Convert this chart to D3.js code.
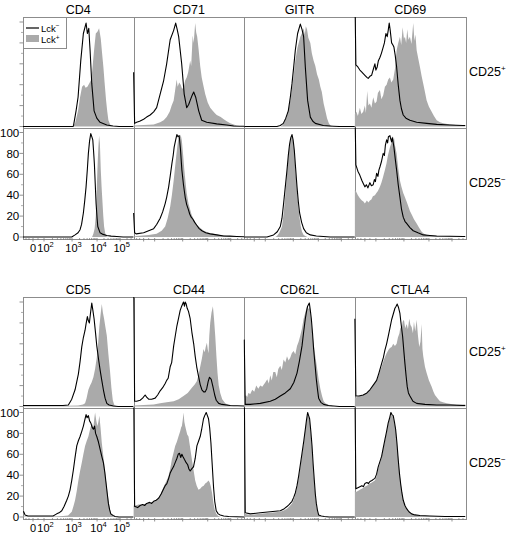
<!DOCTYPE html>
<html><head><meta charset="utf-8">
<script src="https://cdn.jsdelivr.net/npm/d3@7"></script>
<style>
body{margin:0;background:#fff}
svg{display:block;font-family:"Liberation Sans",Arial,Helvetica,sans-serif}
</style>
</head><body><svg id="chart" width="510" height="538"></svg>
<script>
// ---------- labels ----------
const markersTop = ["CD4", "CD71", "GITR", "CD69"];
const markersBottom = ["CD5", "CD44", "CD62L", "CTLA4"];
const subsetLabels = [["CD25", "+"], ["CD25", "−"]];
const legendLabels = [["Lck", "−"], ["Lck", "+"]];
const yTicks = [0, 20, 40, 60, 80, 100];
const xTickChannels = [10, 21, 49, 74, 97];
const xTickLabels = [["0", ""], ["10", "2"], ["10", "3"], ["10", "4"], ["10", "5"]];
const channelDomain = [0, 110.5];

// ---------- histogram data: [display channel, % of max] ----------
// block 1, CD25+ row
const cd4PosNeg = [[0,0],[50,0],[50.5,1],[53,15],[55,28],[57.7,63],[60.3,89],[63,99],[64.3,89],[65.7,94],[67,73],[68.7,41],[71,15],[73.7,8],[77,4],[83.7,1.5],[90,0.5],[96,0],[110.5,0]];
const cd4PosPos = [[0,0],[50,0],[52,3],[55,15],[57,28],[59,38],[61,40],[62.5,37],[64.3,38],[66,41],[67.7,44],[69,52],[70.3,66],[71.5,78],[72.7,89],[74.5,91],[76,94],[77.7,84],[79,70],[80.3,57],[81.5,42],[83,25],[84.2,14],[85.3,6],[87,2],[88.7,0.5],[90,0],[110.5,0]];
const cd71PosNeg = [[0,52],[1,3],[3,4],[6,5],[8,6],[10,7],[13,9],[16.5,11],[20,14],[23,18],[26.5,31],[30,44],[33,60],[36.5,83],[40,92],[42,99],[43.5,93],[45,86],[48,60],[50.5,31],[53,18],[55,21],[56.5,25],[58.5,30],[60,33],[62,28],[65,15],[68,6],[73,4],[83,2.5],[93,1.5],[100,0.5],[110.5,0.3]];
const cd71PosPos = [[0,1],[10,1.5],[20,2],[26.5,4],[30,6],[33,9],[36,14],[38,20],[40,25],[41.5,35],[43,45],[44,38],[45.5,42],[47,40],[48.5,36],[50,38],[51.5,44],[53,47],[54.5,52],[56.5,63],[57.5,58],[59,87],[60,80],[61.5,99],[62.5,90],[63.5,86],[65,73],[66.5,58],[68,47],[69.5,40],[71.5,31],[74,23],[76.5,18],[79,15],[81,13],[83,11],[85,10],[87,9],[90,7],[93,5],[96.5,3],[100,2],[103,1],[106,0.5],[110.5,0]];
const gitrPosNeg = [[0,0],[32.7,0],[36,1],[39,3],[41.5,8],[44,15],[46,28],[47.7,41],[49.5,58],[51,73],[53.3,89],[56,98],[57.7,93],[59.3,86],[61,57],[63.3,25],[66,9],[68.5,5],[71,3],[79,1],[89,0.3],[95,0],[110.5,0]];
const gitrPosPos = [[0,0],[36,0],[38,1],[42,8],[44,15],[46,25],[48.5,42],[51,63],[53,75],[56,86],[58,90],[59.3,94],[60.5,88],[61.5,96],[62.7,93],[64,85],[66,80],[67.5,70],[69.3,63],[71,58],[72.7,50],[74.5,45],[76,38],[77.5,33],[79.3,22],[81,15],[82.7,8],[84.5,3],[86,1],[88,0],[110.5,0]];
const cd69PosNeg = [[0,130],[1,59],[3,57],[5,54],[7,52],[10,49],[12,47],[13.3,46],[15,48],[16.7,49],[18.5,55],[20,60],[21,54],[22.3,57],[23.5,63],[25,66],[26.5,70],[28.3,76],[29.5,80],[31,89],[32.3,86],[33.3,92],[34.3,99],[35.3,92],[36.7,80],[38,78],[39,76],[40.3,68],[41.7,57],[43.3,40],[45,25],[46.5,17],[48.3,11],[51,8],[55,6],[61.7,4],[71.7,3],[81.7,2],[95,1.5],[108,1],[110.5,1]];
const cd69PosPos = [[0,12],[1.5,14],[3,10],[5,18],[6.5,12],[8.3,14],[10,20],[11,13],[12.3,34],[13.5,20],[15,22],[16.5,18],[18.3,28],[20,22],[21.7,24],[23,32],[25,35],[26.5,26],[28.3,30],[30,38],[31.7,40],[33.3,45],[35,47],[36.5,42],[38.3,45],[40,55],[41.7,73],[43.3,80],[45,86],[46.3,78],[47.7,95],[49,84],[50,86],[51.2,80],[52.3,93],[53.5,83],[55,86],[56.5,79],[58.3,99],[59.5,82],[60.5,88],[61.7,73],[63.3,65],[65,57],[66.7,48],[68.3,41],[70,33],[71.7,25],[74,19],[76.7,14],[79,10],[81.7,6],[85,4],[88.3,3],[95,2],[101,1.5],[108,1],[110.5,0.5]];
// block 1, CD25- row
const cd4NegNeg = [[0,0],[48.7,0],[52,2],[55,4],[57,7],[58.5,12],[60.3,23],[61.7,35],[63,48],[64.3,65],[65.3,80],[66.5,92],[67.7,99],[68.7,96],[69.7,93],[70.5,82],[71.3,70],[72.2,50],[73,32],[74,18],[74.7,10],[77,4],[80,2.5],[83.7,1.5],[88,0.8],[93.7,0.5],[100,0],[110.5,0]];
const cd4NegPos = [[0,0],[69,0],[70.3,3],[71.5,8],[72.7,20],[73.5,40],[74.3,64],[75.2,85],[76,97],[76.8,90],[77.7,64],[78.5,48],[79.3,35],[80.2,20],[81,10],[82,4],[83,1],[84.5,0],[110.5,0]];
const cd71NegNeg = [[0,23],[1,4],[2.5,3],[10,4],[15,6],[20,8],[23,12],[26.5,18],[29,24],[31.5,32],[33,38],[35,48],[36.5,58],[38.2,70],[39.5,78],[40.5,86],[42,93],[43.2,98],[44.3,96],[45.5,97],[46.8,84],[48.2,64],[49.8,50],[51.5,38],[53,31],[54.8,26],[56,22],[57.5,19],[59.2,17],[61,14],[63.2,11],[65.5,8],[68.2,6],[72,4],[76.5,3],[83,2],[90,1],[96,0.8],[103,0.5],[110.5,0.3]];
const cd71NegPos = [[0,0.5],[3,1],[15,2],[23,3],[28,6],[31.5,10],[34,18],[36.5,29],[38.2,40],[40,54],[41.2,65],[42.5,77],[43.8,88],[45,97],[46,94],[47,98],[48.2,92],[49.5,78],[50.5,66],[51.5,56],[53,42],[54.8,32],[56.5,26],[58,21],[60.5,16],[63,12],[66,9],[70,6],[75,4],[80,3],[86,2],[93,1],[100,0.5],[106,0],[110.5,0]];
const gitrNegNeg = [[0,0],[22.7,0],[26,1],[29.3,2],[33,5],[36,10],[37.7,18],[39.3,32],[41,48],[42.7,64],[44,78],[45.3,89],[46.5,95],[47.7,98],[48.8,93],[50,83],[51.3,66],[52.7,48],[54,34],[55.3,23],[57.3,14],[59.3,8],[62,4],[66,2],[72,1],[79,0.5],[86,0],[110.5,0]];
const gitrNegPos = [[0,0],[31,0],[32.7,1],[35,4],[37.7,10],[39.5,24],[41,40],[42.7,60],[44.3,80],[46,92],[47.7,97],[48.8,92],[50,82],[51.3,62],[52.7,45],[54,30],[55.3,18],[56.5,10],[57.7,5],[59.3,2],[61,1],[63,0],[110.5,0]];
const cd69NegNeg = [[0,130],[1,69],[3,63],[5,59],[7,54],[8.5,51],[10,48],[11.5,50],[13,47],[15,52],[16.5,49],[18.3,50],[19.5,55],[20.5,53],[21.7,61],[23,58],[24,64],[25,67],[26.5,72],[28.3,80],[29.5,78],[30.5,88],[31.7,93],[32.7,90],[33.5,96],[35,97],[35.8,94],[36.7,91],[37.5,95],[39,86],[40.3,75],[41.7,64],[43.3,50],[45,38],[46.5,27],[48.3,19],[50,15],[51.7,13],[55,9],[58.3,6],[63,4],[68.3,2],[75,1.5],[81.7,1],[95,0.7],[108,0.5],[110.5,0.5]];
const cd69NegPos = [[0,45],[1,44],[3,40],[5,37],[7,35],[8.5,34],[10,32],[12,35],[13.5,33],[15,35],[16.5,36],[18,39],[20,40],[21.5,42],[23,44],[25,48],[26.5,52],[28,57],[30,64],[31.5,70],[33,78],[35,86],[36.5,90],[37.3,97],[38.3,93],[39,96],[40,88],[41.7,80],[43.3,66],[45,54],[46.5,48],[48.3,42],[50,38],[52,33],[53.5,29],[55,25],[57,21],[59,17],[61.7,13],[64,9],[66.7,5],[69,3],[71.7,2],[76,1.5],[81.7,1],[90,0.7],[100,0.5],[110.5,0.3]];
// block 2, CD25+ row
const cd5PosNeg = [[0,1],[20,1],[40,1],[45.3,1.5],[48.7,7],[52,16],[55.3,31],[57,43],[58.7,57],[60.3,66],[62,73],[63,79],[64.3,86],[65.3,82],[66.3,80],[67.5,90],[68.7,99],[69.8,92],[71,84],[72.5,70],[73.7,58],[75.5,45],[77,35],[78.7,25],[80.3,16],[82,8],[83.7,3],[86,1.5],[90.3,0.5],[95,0],[110.5,0]];
const cd5PosPos = [[0,0.5],[30,0.5],[55,1],[60,2],[62,3],[63.5,8],[65.3,16],[67,20],[68.5,23],[70.3,28],[72,36],[73.7,47],[75,60],[76.3,77],[77.5,88],[78.7,98],[79.8,90],[81,84],[82.3,76],[83.7,68],[85.3,50],[87,33],[88.3,18],[89.7,6],[91,2],[92,1],[94,0],[110.5,0]];
const cd44PosNeg = [[0,130],[1,5],[3,5],[6.5,6],[9,8],[11.5,11],[13,9],[15,7],[18,7],[21.5,8],[24,11],[26.5,15],[29,18],[31.5,22],[33,25],[34.5,27],[36.5,38],[38,42],[40,58],[41.5,67],[43.2,77],[45,85],[46.5,92],[48,96],[49.8,100],[50.8,96],[51.5,100],[52.5,98],[53.5,94],[54.8,91],[56.5,84],[58.2,71],[60,60],[61.5,48],[63,38],[64.8,29],[66.5,21],[68.2,16],[70,14],[71.5,14],[73,17],[74.5,24],[75.8,28],[77.5,26],[79.2,19],[81,11],[82.5,6],[85,3],[88.2,2],[96.5,1],[110.5,0.5]];
const cd44PosPos = [[0,1],[10,1.5],[20,2],[26.5,3],[33,4],[40,5],[45,7],[49.8,10],[54,13],[58.2,18],[61,21],[63,24],[64.8,30],[66.5,38],[68.2,46],[69.8,55],[71,52],[72,57],[73.2,61],[74,55],[74.8,51],[75.6,68],[76.5,80],[77.8,90],[79.2,96],[80.3,84],[81.5,68],[82.7,48],[83.8,32],[85,20],[86.5,13],[88.5,7],[91.5,3],[94,2],[96.5,1],[100,0.5],[104,0],[110.5,0]];
const cd62lPosNeg = [[0,64],[1,2],[6,2],[16,3],[26,5],[31,7],[36,10],[41,13],[46,17],[49.5,23],[52.7,32],[55,43],[57.7,58],[59.3,71],[61,84],[62.2,91],[63.3,96],[65,99],[66,92],[67,84],[68.2,70],[69.3,55],[70.7,40],[72,26],[73.2,16],[74.3,8],[76.5,4],[79.3,2],[84,1],[89.3,0.5],[95,0],[110.5,0]];
const cd62lPosPos = [[0,8],[1.5,11],[3,9],[4,13],[6,12],[8,16],[10,14],[12,20],[14,17],[16,20],[18,19],[21,23],[23,26],[24.5,22],[26,30],[27.5,25],[29,33],[31,33],[32.5,28],[34,36],[36,39],[37.5,35],[39.3,45],[41,42],[42.7,48],[44.3,44],[46,47],[47.5,51],[49.3,53],[51,50],[52.7,58],[54.3,62],[56,68],[57.5,74],[59.3,84],[61,90],[62.7,96],[64,93],[65.3,96],[66.5,86],[67.7,74],[69.3,60],[71,48],[72.7,37],[74.3,26],[76,17],[77.7,10],[79.3,5],[81,3],[83.5,2],[86,1],[90,0],[110.5,0]];
const ctla4PosNeg = [[0,84],[1,10],[4,10],[8.3,11],[12,13],[15,16],[18,20],[21.7,25],[24,32],[26.7,41],[28.5,47],[30,54],[31.7,60],[33.3,67],[35,75],[36.7,83],[38.5,89],[40,94],[41.2,96],[42.3,98],[43.5,95],[45,89],[46.3,78],[47.7,67],[49,52],[50,41],[51.2,29],[52.3,19],[53.5,13],[55,10],[58,5],[61.7,3],[70,2],[81.7,1.5],[95,1.5],[108,1],[110.5,1]];
const ctla4PosPos = [[0,8],[2,9],[5,10],[8.3,11],[12,13],[15,16],[18.3,20],[21.7,25],[24,31],[26.7,38],[29,45],[31.7,51],[33.5,54],[35,56],[36.7,57],[38.3,60],[40,58],[41.7,60],[43,66],[44.5,70],[45.5,76],[46.7,73],[47.7,81],[49,83],[50.3,75],[51.7,79],[53,74],[54.3,84],[55.5,78],[56.7,76],[58,70],[59,81],[60.3,72],[61.7,83],[63,68],[64.3,57],[65.5,62],[66.7,79],[67.5,55],[68.3,48],[70,38],[71.7,32],[74,25],[76.7,19],[78.5,14],[80,11],[82.5,8],[85,5],[88,4],[91.7,3],[96,2.5],[101.7,2],[108,2],[110.5,2]];
// block 2, CD25- row
const cd5NegNeg = [[0,5],[0.7,5],[2,2],[5,1],[10,1],[20,1],[30,1],[33.7,3],[36,4],[38.7,6],[41,10],[43.7,16],[45.3,20],[47,26],[48.7,35],[50.3,45],[52,57],[53.7,68],[55.3,73],[57,77],[58.7,82],[60.3,87],[61.5,92],[63,98],[64,95],[65.3,97],[66.5,92],[67.7,90],[69,86],[70.3,84],[71.5,87],[72.5,80],[73.7,77],[75.3,72],[77,65],[78.7,58],[80.3,52],[81.7,43],[83,32],[84.2,22],[85.3,13],[86.5,7],[87.7,3],[90,1.5],[92,0.5],[96,0],[110.5,0]];
const cd5NegPos = [[0,0.5],[30,0.5],[40,1],[45,1.5],[48.7,5],[50.3,10],[52,16],[53.7,25],[55.3,35],[57,44],[58.7,52],[60.3,60],[62,68],[63.7,73],[65.3,77],[67,84],[68.7,90],[70.3,86],[71.2,94],[72,100],[73.2,92],[74.3,87],[75.3,91],[76.3,97],[77.5,85],[78.7,71],[80,60],[81,52],[82.3,40],[83.7,29],[85,19],[86.3,10],[87.5,5],[88.7,2],[90,0.5],[92,0],[110.5,0]];
const cd44NegNeg = [[0,130],[1,10],[1.5,10],[4,9],[6.5,11],[9,12],[11,11],[13,13],[16,14],[18,13],[20,15],[22.5,16],[25,18],[27.5,22],[30,27],[31.5,30],[33.2,32],[35,37],[36.5,42],[38,45],[39.8,48],[41.5,52],[43.2,56],[44.5,60],[45.8,61],[47,57],[48.2,60],[49.2,58],[50.8,55],[52.5,52],[54,50],[55.2,46],[56.5,44],[58,46],[59.8,48],[61.5,56],[63.2,68],[65,73],[66.5,77],[68,84],[69.8,94],[71,97],[72.5,100],[73.7,97],[74.8,94],[76,85],[77.2,71],[78.5,50],[79.8,29],[81,15],[82.5,6],[84.5,3],[86.5,2],[90,1],[95,0.5],[110.5,0]];
const cd44NegPos = [[0,11],[1.5,11],[5,12],[9,12],[13,13],[18,14],[23,16],[26.5,21],[30,29],[32.5,34],[34.8,39],[36.5,46],[38.2,55],[40,62],[41.5,68],[43.2,72],[44.8,77],[46.5,82],[47.5,86],[48.2,87],[49.2,94],[49.8,100],[50.7,91],[51.5,87],[52.5,83],[53.5,79],[54.8,77],[56.5,66],[58.2,55],[60,44],[61.5,35],[63,30],[64.8,26],[66.5,27],[68.2,29],[70,30],[71.5,32],[73,33],[74.8,35],[76,33],[77.2,29],[78.5,22],[79.8,13],[81,7],[82.5,3],[84.5,1],[87,0],[110.5,0]];
const cd62lNegNeg = [[0,130],[1,4],[6,3],[16,4],[26,5],[36,6],[40,8],[42.7,10],[45,12],[47.7,15],[49.5,19],[51,23],[52.7,30],[54.3,39],[56,50],[57.7,61],[59.5,73],[61,84],[62.2,93],[63.3,100],[64.3,97],[65.3,94],[66.5,82],[67.7,68],[68.8,51],[70,35],[71,22],[72,13],[73.2,6],[74.3,2],[77,1],[80,0.5],[85,0],[110.5,0]];
const cd62lNegPos = [[0,3],[6,2],[16,3],[26,4],[36,5],[40,6.5],[42.7,8],[45,10],[47.7,13],[49.5,17],[51,21],[52.7,28],[54.3,37],[56,48],[57.7,60],[59.5,72],[61,84],[62.2,92],[63.3,98],[64.3,96],[65.3,93],[66.5,80],[67.7,66],[68.8,48],[70,32],[71,20],[72,11],[73.2,5],[74.3,2],[76,0.5],[78,0],[110.5,0]];
const ctla4NegNeg = [[0,130],[1,27],[3,28],[5,29],[7,30],[8.5,29],[10,32],[12,33],[13.5,32],[15,34],[17,35],[18.5,36],[20,37],[21.7,41],[23.3,48],[25,53],[26.7,58],[28.3,66],[30,74],[31.5,81],[33.3,90],[34.5,94],[36,100],[37,98],[38.3,97],[39.5,91],[40.7,84],[42,71],[43.3,55],[44.5,42],[45.7,32],[47,23],[48.3,16],[50,11],[51.7,8],[54,5],[56.7,3],[60,2],[65,1.5],[75,1],[90,0.5],[110.5,0.5]];
const ctla4NegPos = [[0,25],[1,24],[3,25],[5,26],[7,27],[10,29],[12,30],[15,32],[17,33],[20,35],[21.7,39],[23.3,46],[25,51],[26.7,57],[28.3,65],[30,73],[31.5,80],[33.3,89],[34.5,93],[36,98],[37,97],[38.3,96],[39.5,90],[40.7,85],[42,71],[43.3,57],[44.5,43],[45.7,33],[47,24],[48.3,17],[50,11],[51.7,8],[54,5],[56.7,3],[60,2],[65,1],[75,0.5],[90,0],[110.5,0]];

// table built from the arrays above
const blocks = [
  {titles: markersTop, rows: [
    [[cd4PosNeg, cd4PosPos], [cd71PosNeg, cd71PosPos], [gitrPosNeg, gitrPosPos], [cd69PosNeg, cd69PosPos]],
    [[cd4NegNeg, cd4NegPos], [cd71NegNeg, cd71NegPos], [gitrNegNeg, gitrNegPos], [cd69NegNeg, cd69NegPos]]]},
  {titles: markersBottom, rows: [
    [[cd5PosNeg, cd5PosPos], [cd44PosNeg, cd44PosPos], [cd62lPosNeg, cd62lPosPos], [ctla4PosNeg, ctla4PosPos]],
    [[cd5NegNeg, cd5NegPos], [cd44NegNeg, cd44NegPos], [cd62lNegNeg, cd62lNegPos], [ctla4NegNeg, ctla4NegPos]]]}
];

// ---------- layout ----------
const svg = d3.select("#chart");
const blockTops = [17, 297];
const panelH = 110.5;
const colScale = d3.scaleBand().domain([0, 1, 2, 3]).range([23, 465.5]).paddingInner(0).paddingOuter(0);
const panelW = colScale.bandwidth();
const grayFill = "#aaaaaa";
const borderCol = "#8c8c8c";
const tickCol = "#777";

function supText(sel, base, sup, supSize, shift) {
  sel.append("tspan").text(base);
  if (sup) sel.append("tspan").attr("font-size", supSize).attr("dy", -shift).text(sup);
}

let clipId = 0;
blocks.forEach((blk, bi) => {
  const top = blockTops[bi];
  blk.titles.forEach((t, ci) => {
    svg.append("text").attr("x", colScale(ci) + panelW / 2).attr("y", top - 3.5)
      .attr("text-anchor", "middle").attr("font-size", 12.5).attr("fill", "#000").text(t);
  });
  blk.rows.forEach((row, ri) => {
    const pTop = top + ri * panelH;
    const pBot = pTop + panelH;
    const y = d3.scaleLinear().domain([0, 100]).range([pBot - 1, pTop + 5]);
    row.forEach((series, ci) => {
      const x0 = colScale(ci);
      const x = d3.scaleLinear().domain(channelDomain).range([x0, x0 + panelW]);
      const id = "clip" + (clipId++);
      svg.append("clipPath").attr("id", id).append("rect")
        .attr("x", x0 - 1).attr("y", pTop).attr("width", panelW + 1).attr("height", panelH);
      svg.append("rect").attr("x", Math.round(x0) + 0.5).attr("y", Math.round(pTop) + 0.5)
        .attr("width", Math.round(panelW)).attr("height", Math.round(panelH))
        .attr("fill", "#fff").attr("stroke", borderCol).attr("stroke-width", 1);
      const g = svg.append("g").attr("clip-path", `url(#${id})`);
      const area = d3.area().x(d => x(d[0])).y0(y(0)).y1(d => y(d[1]));
      const line = d3.line().x(d => x(d[0])).y(d => y(d[1]));
      g.append("path").datum(series[1]).attr("d", area).attr("fill", grayFill).attr("stroke", "none");
      g.append("path").datum(series[0]).attr("d", line).attr("fill", "none")
        .attr("stroke", "#000").attr("stroke-width", 1.1).attr("stroke-linejoin", "round");

      if (ri === 1) {
        const base = pBot;
        const minors = [];
        for (let k = 1; k < xTickChannels.length - 1; k++) {
          const a = xTickChannels[k], b = xTickChannels[k + 1];
          for (let m = 2; m <= 9; m++) minors.push(a + (b - a) * Math.log10(m));
        }
        const last = xTickChannels[xTickChannels.length - 1];
        const step = xTickChannels[4] - xTickChannels[3];
        for (let m = 2; m <= 9; m++) { const v = last + step * Math.log10(m); if (v < channelDomain[1]) minors.push(v); }
        [3, 6, 15].forEach(v => minors.push(v));
        svg.append("g").selectAll("line").data(minors).join("line")
          .attr("x1", d => x(d)).attr("x2", d => x(d)).attr("y1", base).attr("y2", base + 2)
          .attr("stroke", tickCol).attr("stroke-width", 0.7);
        svg.append("g").selectAll("line").data(xTickChannels).join("line")
          .attr("x1", d => x(d)).attr("x2", d => x(d)).attr("y1", base).attr("y2", base + 3.5)
          .attr("stroke", tickCol).attr("stroke-width", 0.8);
        if (ci === 0) {
          xTickLabels.forEach((lab, i) => {
            const t = svg.append("text").attr("x", x(xTickChannels[i]) + (lab[1] ? 1.5 : 0)).attr("y", base + 14)
              .attr("text-anchor", "middle").attr("font-size", 11).attr("fill", "#000");
            supText(t, lab[0], lab[1], 7.5, 5);
          });
        }
      }
      if (ci === 0) {
        const minorY = d3.range(10, 100, 20);
        svg.append("g").selectAll("line").data(minorY).join("line")
          .attr("x1", x0 - 2).attr("x2", x0).attr("y1", d => y(d)).attr("y2", d => y(d))
          .attr("stroke", tickCol).attr("stroke-width", 0.6);
        svg.append("g").selectAll("line").data(yTicks).join("line")
          .attr("x1", x0 - 3.5).attr("x2", x0).attr("y1", d => y(d)).attr("y2", d => y(d))
          .attr("stroke", tickCol).attr("stroke-width", 0.8);
        if (ri === 1) {
          svg.append("g").selectAll("text").data(yTicks).join("text")
            .attr("x", x0 - 3.8).attr("y", d => y(d) + 4.1).attr("text-anchor", "end")
            .attr("font-size", 11.5).attr("fill", "#000").text(d => d);
        }
      }
    });
    const lab = subsetLabels[ri];
    const t = svg.append("text").attr("x", 469).attr("y", pTop + panelH / 2 + 4)
      .attr("font-size", 12.5).attr("fill", "#000");
    supText(t, lab[0], lab[1], 8, 5);
  });
});

// ---------- legend ----------
const lg = svg.append("g");
lg.append("rect").attr("x", 23.5).attr("y", 17.5).attr("width", 43).attr("height", 31)
  .attr("fill", "#fff").attr("stroke", borderCol).attr("stroke-width", 1);
lg.append("line").attr("x1", 26).attr("x2", 39).attr("y1", 28).attr("y2", 28)
  .attr("stroke", "#000").attr("stroke-width", 1.2);
lg.append("rect").attr("x", 26).attr("y", 35).attr("width", 13).attr("height", 7).attr("fill", grayFill);
legendLabels.forEach((l, i) => {
  const t = lg.append("text").attr("x", 41).attr("y", 31.5 + i * 11.5).attr("font-size", 9.5).attr("fill", "#000");
  supText(t, l[0], l[1], 6.5, 3.5);
});
</script>
</body></html>
